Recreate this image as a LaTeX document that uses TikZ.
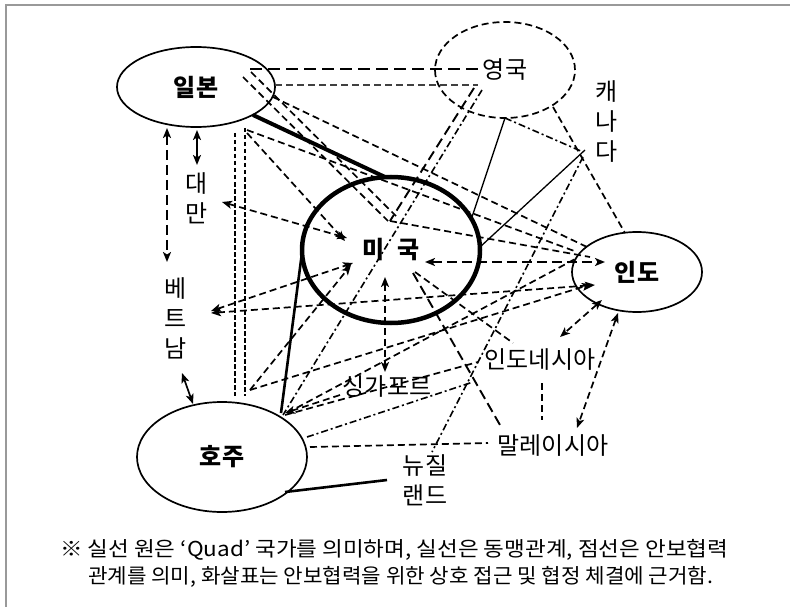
\documentclass[tikz,border=0pt]{standalone}
\usepackage{fontspec}
\usepackage{graphicx}
\newfontfamily\kr{Noto Sans CJK KR}
\usetikzlibrary{arrows.meta,shapes.geometric}
\begin{document}
\begin{tikzpicture}[x=1pt,y=-1pt,
  lbl/.style={font=\kr\fontsize{24}{30}\selectfont, inner sep=0pt, align=center},
  blbl/.style={font=\kr\bfseries\fontsize{24}{30}\selectfont, inner sep=0pt, align=center},
  captxt/.style={font=\kr\fontsize{20.5}{24}\selectfont, inner sep=0pt, anchor=west},
  country/.style={ellipse, draw, line width=1.7pt, inner sep=0pt},
  dsh/.style={line width=1.7pt, dash pattern=on 7pt off 4pt},
  ldsh/.style={line width=1.9pt, dash pattern=on 10pt off 5pt},
  ddot/.style={line width=1.6pt, dash pattern=on 7pt off 3pt on 2pt off 3pt},
  sdsh/.style={line width=1.9pt, dash pattern=on 4.5pt off 2.5pt},
  thinln/.style={line width=1.3pt},
  tip/.style={-{Stealth[length=10pt,width=8pt,inset=2.5pt]}},
  tips/.style={{Stealth[length=10pt,width=8pt,inset=2.5pt]}-{Stealth[length=10pt,width=8pt,inset=2.5pt]}},
]
\useasboundingbox (0,0) rectangle (790,607);
% frame
\coordinate (fTL) at (6,5);
\coordinate (fTR) at (790,5);
\coordinate (fBL) at (6,607);
\draw[gray!80, line width=1.8pt] (fTR) -- (fTL) -- (fBL);

% country ellipses
\node[country, minimum width=158pt, minimum height=80pt, blbl] (J) at (196,87) {일본};
\node[country, dash pattern=on 7pt off 4pt, minimum width=140pt, minimum height=96pt, lbl] (UK) at (505,70) {영국};
\node[country, line width=4.5pt, minimum width=178pt, minimum height=146pt, blbl] (US) at (391,250) {미\hspace{0.55em}국};
\node[country, minimum width=130pt, minimum height=80pt, blbl] (IN) at (637,272) {인도};
\node[country, minimum width=170pt, minimum height=110pt, blbl] (AU) at (222,457) {호주};

% other labels
\node[lbl] (CA) at (607,122) {캐\\나\\다};
\node[lbl] (TW) at (197,198) {대\\만};
\node[lbl] (VN) at (176,318) {베\\트\\남};
\node[lbl] (SG) at (387,386) {싱가포르};
\node[lbl] (ID) at (540,360) {인도네시아};
\node[lbl] (MY) at (553,446) {말레이시아};
\node[lbl] (NZ) at (425,480) {뉴질\\랜드};

% caption
\node[captxt] (cap1) at (60,550) {\resizebox{668pt}{\height}{※ 실선 원은 ‘Quad’ 국가를 의미하며, 실선은 동맹관계, 점선은 안보협력}};
\node[captxt] (cap2) at (88,577) {\resizebox{625pt}{\height}{관계를 의미, 화살표는 안보협력을 위한 상호 접근 및 협정 체결에 근거함.}};

% named connector end points
\coordinate (hub) at (390,221);
\coordinate (cJus) at (253,115); \coordinate (cUSj) at (385,177);
\coordinate (cAUus) at (281,413); \coordinate (cUSau) at (303,245);
\coordinate (cAUnz) at (285,492); \coordinate (cNZau) at (387,480);
\coordinate (cUKus) at (505,118); \coordinate (cUSuk) at (472,217);
\coordinate (cCAus) at (585,150); \coordinate (cUScaa) at (480,247);

\coordinate (cJuk1) at (250,69); \coordinate (cUKj1) at (482,69);
\coordinate (cJuk2) at (275,85); \coordinate (cUKj2) at (478,85);
\coordinate (cJin1) at (273,97); \coordinate (cINj1) at (587,247);
\coordinate (cJh1) at (243,77); \coordinate (cHj1) at (388,221);
\coordinate (cJh2) at (251,72); \coordinate (cHj2) at (396,216);
\coordinate (cUKh) at (474,88);
\coordinate (cUKau) at (482,90); \coordinate (cAUuk) at (283,415);
\coordinate (cUKca) at (505,118); \coordinate (cCAuk) at (583,152);
\coordinate (cUKin) at (553,107); \coordinate (cINuk) at (625,233);
\coordinate (cCAnz) at (583,157); \coordinate (cNZca) at (432,452);
\coordinate (cJin2) at (247,130); \coordinate (cINj2) at (577,252);
\coordinate (cINh) at (590,257);
\coordinate (cUSin) at (425,262); \coordinate (cINus) at (605,262);
\coordinate (cTWus) at (222,202); \coordinate (cUStw) at (347,238);
\coordinate (cJus2) at (247,133); \coordinate (cUSj2) at (345,241);
\coordinate (cJtw) at (197,130); \coordinate (cTWj) at (197,165);
\coordinate (cJvn) at (167,128); \coordinate (cVNj) at (167,262);
\coordinate (cVNau) at (182,373); \coordinate (cAUvn) at (193,404);
\coordinate (cJau1) at (235,133); \coordinate (cAUj1) at (235,396);
\coordinate (cJau2) at (245,128); \coordinate (cAUj2) at (245,396);
\coordinate (cVNus) at (211,311); \coordinate (cUSvn) at (353,263);
\coordinate (cVNin) at (211,313); \coordinate (cINvn) at (595,285);
\coordinate (cAUus2) at (250,390); \coordinate (cUSau2) at (351,265);
\coordinate (cAUin) at (250,390); \coordinate (cINau) at (592,284);
\coordinate (cSGau) at (340,395); \coordinate (cAUsg) at (285,413);
\coordinate (cAUin2) at (287,413); \coordinate (cINau2) at (577,258);
\coordinate (cAUid) at (285,415); \coordinate (cIDau) at (478,362);
\coordinate (cAUid2) at (307,437); \coordinate (cIDau2) at (473,382);
\coordinate (cAUmy) at (310,447); \coordinate (cMYau) at (488,443);
\coordinate (cUSsg) at (385,277); \coordinate (cSGus) at (385,372);
\coordinate (cUSid) at (415,272); \coordinate (cIDus) at (513,343);
\coordinate (cUSmy) at (413,273); \coordinate (cMYus) at (500,425);
\coordinate (cINid) at (602,300); \coordinate (cIDin) at (560,337);
\coordinate (cINmy) at (618,313); \coordinate (cMYin) at (577,428);
\coordinate (cIDmy) at (542,383); \coordinate (cMYid) at (542,420);

% solid alliance lines
\draw[line width=4pt] (cJus) -- (cUSj);
\draw[line width=2.6pt] (cAUus) -- (cUSau);
\draw[line width=2.6pt] (cAUnz) -- (cNZau);
\draw[thinln] (cUKus) -- (cUSuk);
\draw[thinln] (cCAus) -- (cUScaa);

% security cooperation lines
\draw[line width=2.3pt, dash pattern=on 12pt off 6pt] (cJuk1) -- (cUKj1);
\draw[dsh, black!75] (cJuk2) -- (cUKj2);
\draw[dsh] (cJin1) -- (cINj1);
\draw[dsh] (cJh1) -- (cHj1);
\draw[dsh] (cJh2) -- (cHj2);
\draw[ldsh] (cUKh) -- (hub);
\draw[ddot] (cUKau) -- (cAUuk);
\draw[ddot] (cUKca) -- (cCAuk);
\draw[dsh] (cUKin) -- (cINuk);
\draw[ddot] (cCAnz) -- (cNZca);
\draw[dsh] (cJin2) -- (cINj2);
\draw[dsh] (hub) -- (cINh);
\draw[ldsh, tips] (cUSin) -- (cINus);
\draw[dsh, tips] (cTWus) -- (cUStw);
\draw[dsh, tip] (cJus2) -- (cUSj2);
\draw[line width=1.7pt, tips] (cJtw) -- (cTWj);
\draw[ldsh, tips] (cJvn) -- (cVNj);
\draw[line width=1.7pt, tips] (cVNau) -- (cAUvn);
\draw[sdsh] (cJau1) -- (cAUj1);
\draw[sdsh] (cJau2) -- (cAUj2);
\draw[dsh, tips] (cVNus) -- (cUSvn);
\draw[dsh, tips] (cVNin) -- (cINvn);
\draw[dsh, tip] (cAUus2) -- (cUSau2);
\draw[dsh, tip] (cAUin) -- (cINau);
\draw[dsh, tip] (cSGau) -- (cAUsg);
\draw[dsh] (cAUin2) -- (cINau2);
\draw[dsh] (cAUid) -- (cIDau);
\draw[ddot] (cAUid2) -- (cIDau2);
\draw[dsh] (cAUmy) -- (cMYau);
\draw[dsh, tips] (cUSsg) -- (cSGus);
\draw[dsh] (cUSid) -- (cIDus);
\draw[ldsh] (cUSmy) -- (cMYus);
\draw[dsh, tips] (cINid) -- (cIDin);
\draw[dsh, tips] (cINmy) -- (cMYin);
\draw[dsh] (cIDmy) -- (cMYid);
\end{tikzpicture}
\end{document}
